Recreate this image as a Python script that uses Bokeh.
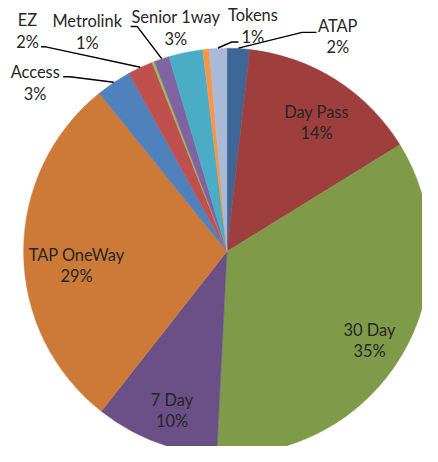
import math
from bokeh.plotting import figure
from bokeh.models import Range1d, ColumnDataSource
from bokeh.core.properties import value
from bokeh.embed import file_html
from bokeh.resources import INLINE

# ---- data (clockwise from 12 o'clock) ----
categories = ["ATAP", "Day Pass", "30 Day", "7 Day", "TAP OneWay", "Access", "EZ",
              "", "Metrolink", "Senior 1way", "", "Tokens"]
values = [1.8, 14.4, 34.6, 9.8, 28.6, 2.8, 2.0, 0.2, 1.2, 2.7, 0.5, 1.4]
colors = ["#3E6797", "#9E3F3E", "#7F9A48", "#6A5086", "#CD7A38", "#4F81BD", "#C0504D",
          "#9BBB59", "#8064A2", "#4BACC6", "#F79646", "#A9B9D8"]

# ---- layout (reference-image coordinates, 438 x 462) ----
CX, CY, R = 235, 260, 211
FONT = "Lato"
FS = "16.4px"
TXT = "#262626"
label_pos = {
    "ATAP": (350, 37), "Day Pass": (328, 126), "30 Day": (383, 352), "7 Day": (178, 424),
    "TAP OneWay": (79, 274), "Access": (36, 85), "EZ": (28, 31), "Metrolink": (90, 32),
    "Senior 1way": (182, 28), "Tokens": (262, 26),
}
leaders = {
    "ATAP": [(313, 33), (328, 33)],
    "Tokens": [(240, 43), (247, 43)],
    "Metrolink": [(142, 27), (135, 27)],
    "EZ": [(47, 48), (42, 48)],
    "Access": [(72, 79), (65, 79)],
}

total = sum(values)
W, H = 422, 446
p = figure(width=W, height=H, output_backend="svg", toolbar_location=None,
           x_range=Range1d(0, 438), y_range=Range1d(-462, 0),
           min_border=0, outline_line_color=None)
p.axis.visible = False
p.grid.visible = False
p.background_fill_color = "white"
p.border_fill_color = "white"

starts, ends, mids = [], [], []
cum = 0.0
for v in values:
    a0 = math.pi / 2 - 2 * math.pi * cum / total
    cum += v
    a1 = math.pi / 2 - 2 * math.pi * cum / total
    starts.append(a1)
    ends.append(a0)
    mids.append((a0 + a1) / 2)

src = ColumnDataSource(dict(start=starts, end=ends, color=colors))
p.wedge(x=CX, y=-CY, radius=R, start_angle="start", end_angle="end",
        fill_color="color", line_color="color", line_width=0.5, source=src)

for name, pts in leaders.items():
    i = categories.index(name)
    sx = CX + R * math.cos(mids[i])
    sy = CY - R * math.sin(mids[i])
    xs = [sx] + [q[0] for q in pts]
    ys = [-sy] + [-q[1] for q in pts]
    p.line(xs, ys, line_color="black", line_width=1.45)

nx, ny, nt, px_, py_, pt = [], [], [], [], [], []
for name, v in zip(categories, values):
    if not name:
        continue
    x, y = label_pos[name]
    nx.append(x); ny.append(-(y - 11)); nt.append(name)
    px_.append(x); py_.append(-(y + 11)); pt.append(f"{round(v / total * 100)}%")

p.text(x=nx, y=ny, text=nt, text_font=value(FONT), text_font_size=FS,
       text_align="center", text_baseline="middle", text_color=TXT)
p.text(x=px_, y=py_, text=pt, text_font=value(FONT), text_font_size=FS,
       text_align="center", text_baseline="middle", text_color=TXT)

open("out.html", "w").write(file_html(p, INLINE))
